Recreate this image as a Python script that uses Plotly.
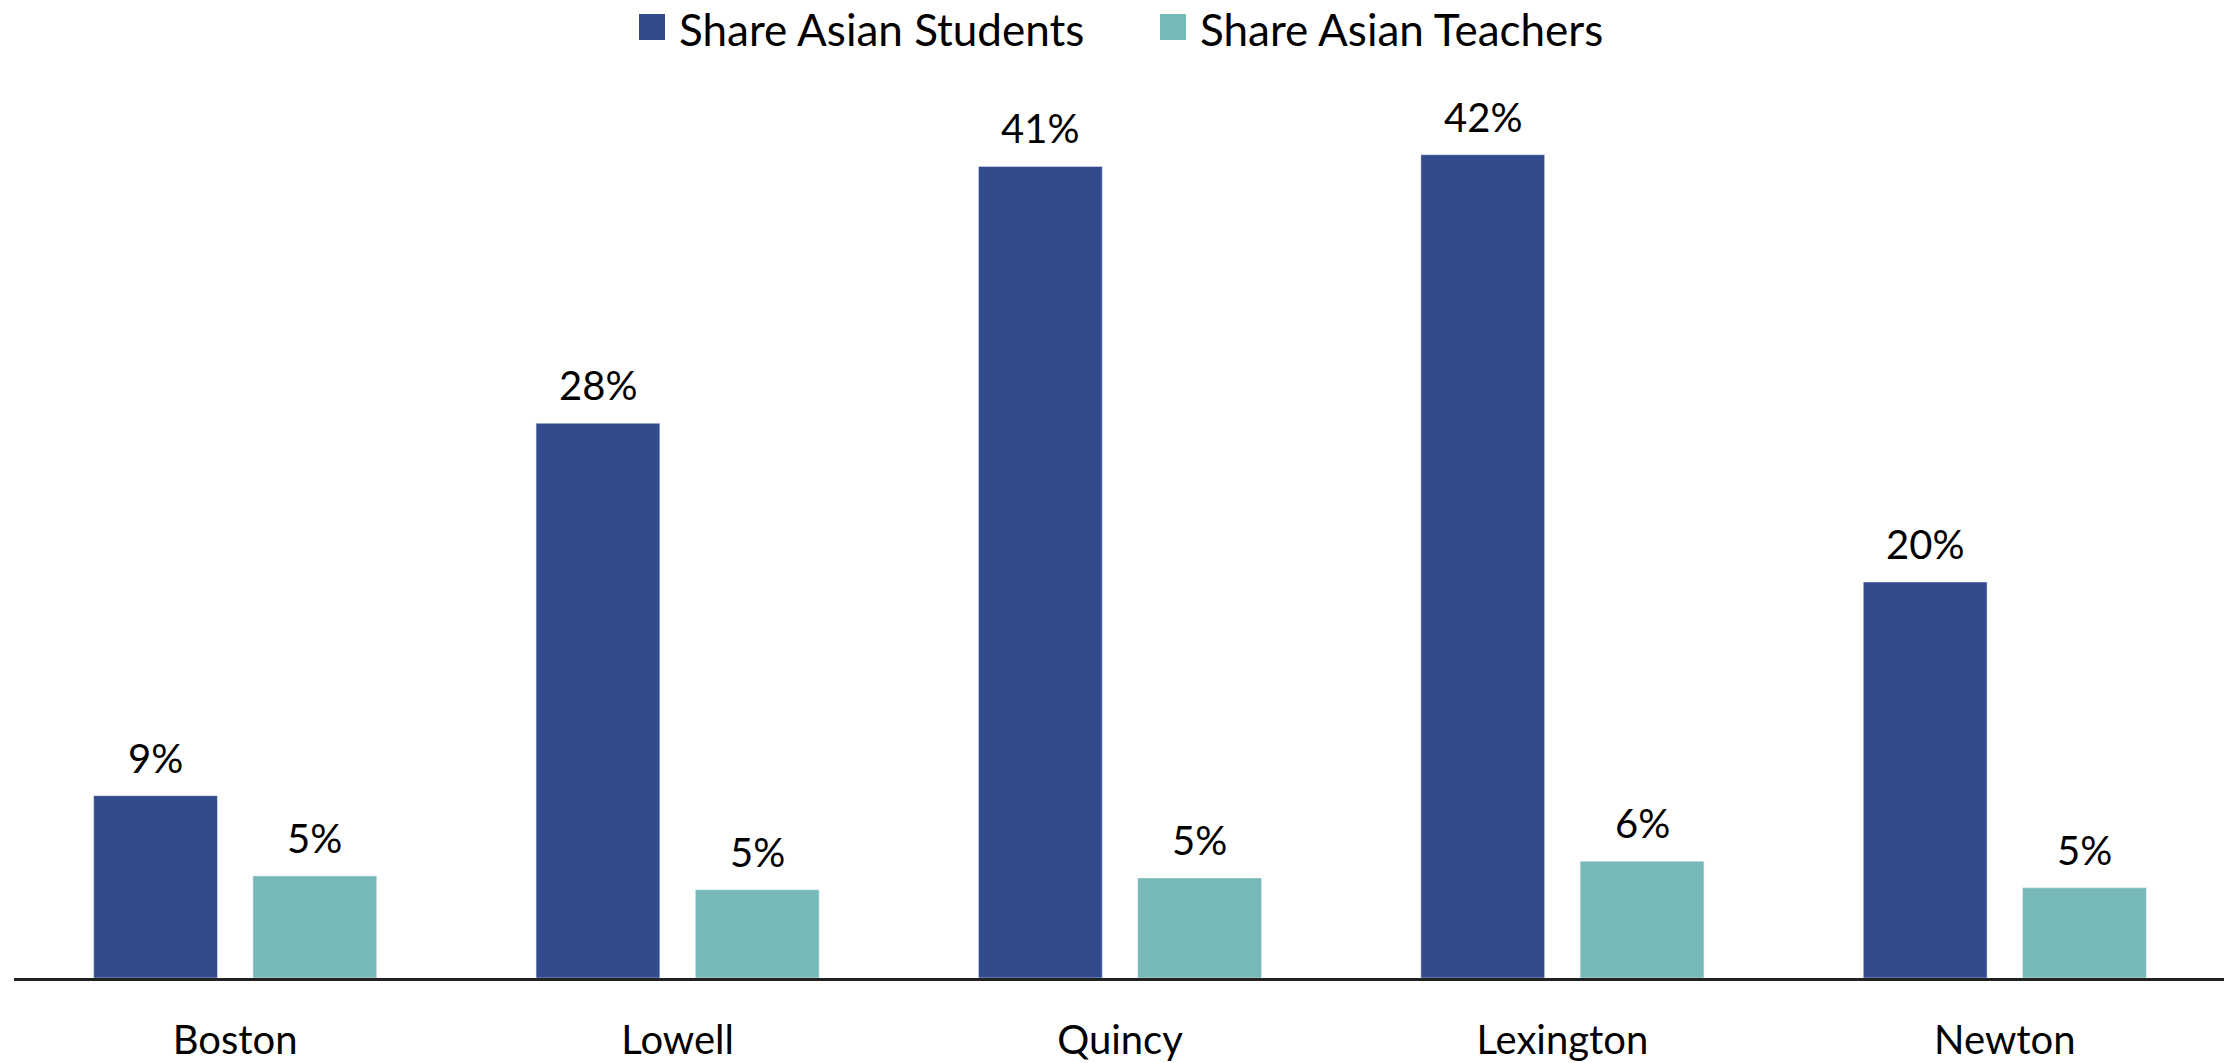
import plotly.graph_objects as go

cities = ["Boston", "Lowell", "Quincy", "Lexington", "Newton"]
students = [9.3, 28.3, 41.4, 42.0, 20.2]
teachers = [5.2, 4.5, 5.1, 5.95, 4.6]
student_labels = ["9%", "28%", "41%", "42%", "20%"]
teacher_labels = ["5%", "5%", "5%", "6%", "5%"]
series_names = ["Share Asian Students", "Share Asian Teachers"]

FONT = "Lato"
C_STU = "#314B8C"
C_TEA = "#77B9B8"
BARGAP = 0.28
PAGE_OFF = 8  # default body margin of the html page
W, H = 2224, 1055
L, R, T, B = 6, 6, 82, 85
PW, PH = W - L - R, H - T - B
idx = list(range(len(cities)))
half = (1 - BARGAP) / 4  # centre offset of each bar within its group


def px_x(p):
    return (p - PAGE_OFF - L) / PW


def px_y(p):
    return (H - B - (p - PAGE_OFF)) / PH


fig = go.Figure()
fig.add_bar(x=idx, y=students, name=series_names[0], marker_color=C_STU, showlegend=False)
fig.add_bar(x=idx, y=teachers, name=series_names[1], marker_color=C_TEA, showlegend=False)

annotations = []
for i, v, t in zip(idx, students, student_labels):
    annotations.append(dict(x=i - half, y=v, text=t, showarrow=False, yanchor="bottom", yshift=12,
                            font=dict(size=40, family=FONT, color="black")))
for i, v, t in zip(idx, teachers, teacher_labels):
    annotations.append(dict(x=i + half, y=v, text=t, showarrow=False, yanchor="bottom", yshift=12,
                            font=dict(size=40, family=FONT, color="black")))

# custom legend (large square swatches)
shapes = []
for (sx, tx), nm, col in zip([(639, 677), (1160, 1198)], series_names, [C_STU, C_TEA]):
    shapes.append(dict(type="rect", xref="paper", yref="paper", x0=px_x(sx), x1=px_x(sx + 26),
                       y0=px_y(40), y1=px_y(14), fillcolor=col, line=dict(width=0)))
    annotations.append(dict(xref="paper", yref="paper", x=px_x(tx), y=px_y(29), xanchor="left",
                            yanchor="middle", text=nm, showarrow=False,
                            font=dict(size=44, family=FONT, color="black")))

fig.update_layout(
    width=W, height=H,
    margin=dict(l=L, r=R, t=T, b=B),
    plot_bgcolor="white", paper_bgcolor="white",
    barmode="group", bargap=BARGAP, bargroupgap=0.223,
    font=dict(family=FONT, size=40, color="black"),
    showlegend=False,
    annotations=annotations, shapes=shapes,
)
fig.update_xaxes(range=[-0.5, len(cities) - 0.5], tickmode="array", tickvals=idx, ticktext=cities,
                 showline=True, linecolor="#222222", linewidth=3, ticks="outside", ticklen=25,
                 tickcolor="rgba(0,0,0,0)", tickfont=dict(size=40, family=FONT), automargin=False,
                 showgrid=False, zeroline=False)
fig.update_yaxes(range=[0, 45.3], visible=False, showgrid=False, zeroline=False, automargin=False)

fig.write_html("out.html")
